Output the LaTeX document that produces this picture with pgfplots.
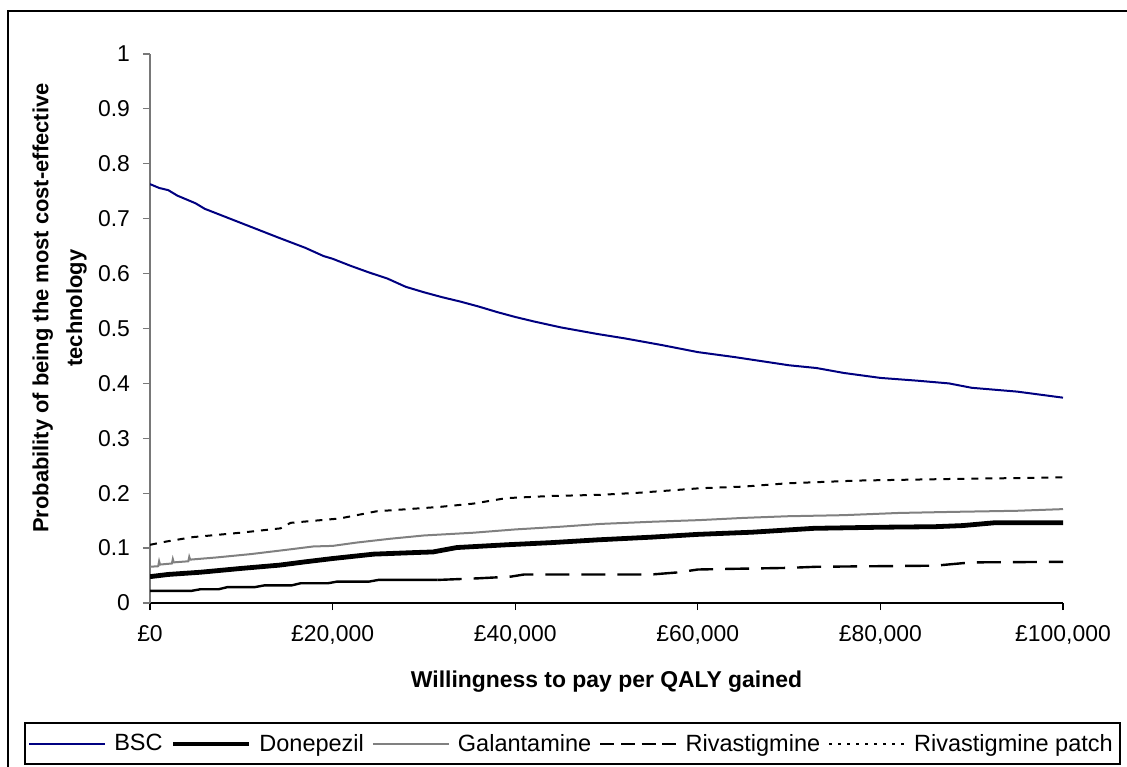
\documentclass[border=0pt]{standalone}
\usepackage{pgfplots}
\pgfplotsset{compat=1.18}
\usepackage{fontspec}
\setmainfont{Liberation Sans}
\definecolor{bscnavy}{RGB}{0,0,128}
\definecolor{galgray}{RGB}{128,128,128}
\definecolor{axgray}{RGB}{120,120,120}
\begin{document}
\begin{tikzpicture}
\path[use as bounding box] (0bp,0bp) rectangle (563.5bp,383.5bp);
\draw[line width=0.7bp] (4bp,-2bp) -- (4bp,378bp) -- (566bp,378bp);
\draw[line width=0.6bp] (12.5bp,1.5bp) rectangle (560bp,22bp);
\begin{axis}[
  at={(75bp,82bp)}, anchor=south west,
  width=456.5bp, height=274.5bp, scale only axis,
  xmin=0, xmax=100000, ymin=0, ymax=1,
  scaled x ticks=false, scaled y ticks=false,
  axis x line*=bottom, axis y line*=left,
  x axis line style={-,black,line width=0.6bp},
  y axis line style={-,axgray,line width=0.6bp},
  tick align=outside, major tick length=3.5bp,
  xtick style={black,line width=0.6bp},
  ytick style={axgray,line width=0.6bp},
  xtick={0,20000,40000,60000,80000,100000},
  xticklabels={{£0},{£20,000},{£40,000},{£60,000},{£80,000},{£100,000}},
  ytick={0,0.1,0.2,0.3,0.4,0.5,0.6,0.7,0.8,0.9,1},
  yticklabels={0,0.1,0.2,0.3,0.4,0.5,0.6,0.7,0.8,0.9,1},
  /pgf/number format/assume math mode=true,
  tick label style={font=\fontsize{11.5}{13}\selectfont},
  yticklabel style={xshift=-3bp},
  xticklabel style={yshift=-4bp},
  xlabel={Willingness to pay per QALY gained},
  xlabel style={font=\bfseries\fontsize{11.5}{13}\selectfont, at={(axis description cs:0.5,-0.143)}, anchor=center},
  ylabel={Probability of being the most cost-effective\\[4bp]technology},
  ylabel style={font=\bfseries\fontsize{11}{13}\selectfont, align=center, at={(axis description cs:-0.099,0.537)}, anchor=center},
  legend columns=5,
  legend style={at={(axis description cs:0.4628,-0.257)}, anchor=center, draw=none, fill=none,
    font=\fontsize{11.8}{13}\selectfont, inner sep=0pt,
    /tikz/every even column/.append style={column sep=2bp},
    /tikz/every odd column/.append style={column sep=2bp}},
  legend image code/.code={\draw[#1] (0bp,0bp) -- (38bp,0bp);},
  legend cell align=left,
]
\addplot[bscnavy, line width=1bp] coordinates {
(0,0.763)(1000,0.756)(2000,0.752)(3000,0.742)(4000,0.735)(5000,0.728)(6000,0.718)
(8000,0.705)(10000,0.692)(12000,0.679)(14000,0.666)(17000,0.647)(19000,0.632)
(20000,0.627)(22000,0.614)(24000,0.602)(26000,0.591)(28000,0.576)(30000,0.566)
(32000,0.557)(34000,0.549)(36000,0.540)(38000,0.530)(40000,0.521)(42000,0.513)
(45000,0.502)(49000,0.490)(52000,0.482)(56000,0.470)(60000,0.457)(64000,0.448)
(68000,0.438)(70000,0.433)(73000,0.428)(76000,0.419)(80000,0.410)(84000,0.405)
(87500,0.400)(90000,0.392)(95000,0.385)(100000,0.374)};
\addlegendentry{BSC}
\addplot[black, line width=2.4bp] coordinates {
(0,0.048)(2000,0.052)(5500,0.056)(10000,0.063)(14200,0.069)(17000,0.075)(20000,0.081)
(24500,0.089)(29200,0.092)(31000,0.093)(33600,0.101)(39000,0.106)(44000,0.110)
(49000,0.115)(55000,0.120)(60000,0.125)(66000,0.129)(72700,0.136)(80000,0.138)
(86000,0.139)(89000,0.141)(92400,0.146)(100000,0.146)};
\addlegendentry{Donepezil}
\addplot[galgray, line width=1bp] coordinates {
(0,0.066)(900,0.067)(1000,0.076)(1100,0.070)(2400,0.072)(2500,0.080)(2600,0.074)
(4200,0.076)(4300,0.084)(4400,0.079)(7300,0.083)(11000,0.089)(15000,0.097)
(17900,0.103)(20000,0.104)(22600,0.110)(26300,0.117)(30000,0.123)(35400,0.128)
(40000,0.134)(45000,0.139)(49300,0.144)(55000,0.148)(60200,0.151)(65000,0.155)
(69800,0.158)(76000,0.160)(82000,0.164)(88000,0.166)(95000,0.168)(100000,0.171)};
\addlegendentry{Galantamine}
\addplot[black, line width=1.2bp, forget plot] coordinates {
(0,0.022)(4500,0.022)(5500,0.025)(7500,0.025)(8500,0.029)(11500,0.029)(12500,0.032)
(15500,0.032)(16500,0.036)(19500,0.036)(20500,0.039)(24000,0.039)(25000,0.042)(31500,0.042)};
\addplot[black, line width=1.2bp, dash pattern=on 12bp off 6bp,
  legend image post style={dash pattern=on 7bp off 3.3bp}] coordinates {
(31500,0.042)(36000,0.045)(39500,0.048)(41000,0.052)(55000,0.052)(58000,0.056)
(60000,0.061)(63000,0.062)(70000,0.064)(73000,0.066)(86000,0.068)(90000,0.074)(100000,0.075)};
\addlegendentry{Rivastigmine}
\addplot[black, line width=1bp, dash pattern=on 3.5bp off 3.5bp,
  legend image post style={dash pattern=on 1.5bp off 3bp}] coordinates {
(0,0.106)(1800,0.112)(4700,0.120)(9900,0.128)(14300,0.136)(15400,0.146)(20800,0.154)
(24800,0.167)(31700,0.175)(35400,0.181)(39000,0.191)(44000,0.195)(49300,0.197)
(53700,0.201)(60200,0.209)(65000,0.212)(69800,0.218)(77500,0.223)(88000,0.226)
(97000,0.228)(100000,0.229)};
\addlegendentry{Rivastigmine patch}
\end{axis}
\end{tikzpicture}
\end{document}
